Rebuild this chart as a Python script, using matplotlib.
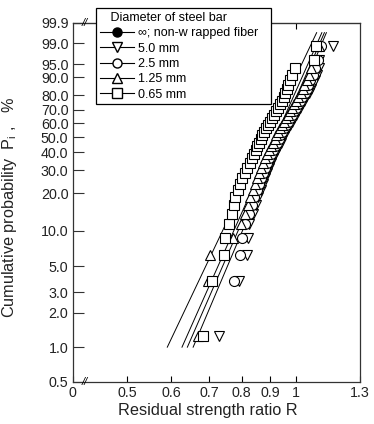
import numpy as np
import matplotlib
matplotlib.use("Agg")
import matplotlib.pyplot as plt
from matplotlib.lines import Line2D

plt.rcParams["font.family"] = ["Liberation Sans", "DejaVu Sans"]

# cumulative probability (%) of each ranked specimen
prob = [1.25, 3.75, 6.25, 8.75, 11.25, 13.75, 16.25, 18.75, 21.25, 23.75,
        26.25, 28.75, 31.25, 33.75, 36.25, 38.75, 41.25, 43.75, 46.25, 48.75,
        51.25, 53.75, 56.25, 58.75, 61.25, 63.75, 66.25, 68.75, 71.25, 73.75,
        76.25, 78.75, 81.25, 83.75, 86.25, 88.75, 91.25, 93.75, 96.25, 98.75]

# residual strength ratio R, ranked
r_50 = [0.728, 0.790, 0.818, 0.822, 0.825, 0.838, 0.848, 0.857, 0.865, 0.873,
        0.879, 0.886, 0.895, 0.903, 0.911, 0.919, 0.926, 0.933, 0.940, 0.946,
        0.952, 0.961, 0.969, 0.977, 0.985, 0.992, 1.001, 1.008, 1.017, 1.026,
        1.034, 1.043, 1.053, 1.062, 1.069, 1.079, 1.088, 1.099, 1.100, 1.165]
r_25 = [np.nan, 0.774, 0.795, 0.801, 0.812, 0.824, 0.834, 0.843, 0.851, 0.859,
        0.865, 0.872, 0.880, 0.888, 0.896, 0.904, 0.911, 0.918, 0.925, 0.931,
        0.937, 0.945, 0.953, 0.961, 0.969, 0.976, 0.985, 0.992, 1.000, 1.009,
        1.017, 1.026, 1.036, 1.045, 1.052, 1.061, 1.070, 1.081, 1.095, 1.109]
r_125 = [0.668, 0.698, 0.703, 0.773, 0.799, 0.811, 0.821, 0.829, 0.837, 0.845,
         0.851, 0.858, 0.866, 0.874, 0.882, 0.889, 0.896, 0.903, 0.910, 0.916,
         0.922, 0.930, 0.938, 0.946, 0.953, 0.960, 0.969, 0.976, 0.984, 0.993,
         1.000, 1.009, 1.019, 1.028, 1.035, 1.044, 1.053, 1.063, 1.077, 1.100]
r_065 = [0.683, 0.710, 0.743, 0.748, 0.761, 0.769, 0.774, 0.780, 0.789, 0.795,
         0.802, 0.812, 0.818, 0.827, 0.834, 0.841, 0.848, 0.853, 0.860, 0.865,
         0.871, 0.878, 0.883, 0.890, 0.899, 0.907, 0.915, 0.922, 0.930, 0.937,
         0.945, 0.951, 0.957, 0.963, 0.969, 0.976, 0.985, 0.997, 1.078, 1.086]

# fitted Weibull lines (shape m, scale R0), drawn from 1 % to 99.66 %
fit_m = [11.6, 11.28, 11.05, 10.35]
fit_r0 = [0.975, 0.963, 0.950, 0.920]
fit_p = [1.0, 99.66]

yticks = [0.5, 1.0, 2.0, 3.0, 5.0, 10.0, 20.0, 30.0, 40.0, 50.0, 60.0, 70.0,
          80.0, 90.0, 95.0, 99.0, 99.9]
xticks = [0.4, 0.5, 0.6, 0.7, 0.8, 0.9, 1.0, 1.3]
xlabels = ["0", "0.5", "0.6", "0.7", "0.8", "0.9", "1", "1.3"]


def weib(p):
    p = np.clip(np.asarray(p, dtype=float), 1e-6, 99.99999) / 100.0
    return np.log(-np.log(1.0 - p))


def weib_inv(w):
    return 100.0 * (1.0 - np.exp(-np.exp(w)))


fig = plt.figure(figsize=(3.74, 4.24), dpi=100)
ax = fig.add_axes([0.194, 0.0998, 0.7686, 0.846])
ax.set_xscale("log")
ax.set_yscale("function", functions=(weib, weib_inv))

# fitted lines
for m, r0 in zip(fit_m, fit_r0):
    p = np.array(fit_p) / 100.0
    r = r0 * (-np.log(1.0 - p)) ** (1.0 / m)
    ax.plot(r, fit_p, color="black", lw=0.7, zorder=2)

series = [(r_50, "v"), (r_25, "o"), (r_125, "^"), (r_065, "s")]
for r, mk in series:
    ax.plot(r, prob, ls="none", marker=mk, ms=7.2, mfc="white", mec="black",
            mew=0.8, zorder=3)

ax.set_xlim(0.4, 1.3)
ax.set_ylim(0.5, 99.9)
ax.set_xticks(xticks)
ax.set_xticklabels(xlabels)
ax.set_yticks(yticks)
ax.set_yticklabels(["%.1f" % v for v in yticks])
ax.minorticks_off()
ax.tick_params(axis="y", direction="in", length=8, width=0.8, pad=3,
               labelsize=10.3, colors="#333333", labelcolor="#222222")
ax.tick_params(axis="x", direction="in", length=4.5, width=0.8, pad=3,
               labelsize=10.3, labelcolor="#222222")
for s in ax.spines.values():
    s.set_linewidth(0.9)
    s.set_color("#333333")

top = ax.secondary_xaxis("top")
top.set_xticks([1.0])
top.set_xticklabels([])
top.minorticks_off()
top.tick_params(direction="in", length=4, width=0.8)

# axis break marks
ax.text(0.043, 0.0, "//", transform=ax.transAxes, ha="center", va="center",
        fontsize=8, style="italic")
ax.text(0.043, 1.0, "//", transform=ax.transAxes, ha="center", va="center",
        fontsize=8, style="italic")

ax.set_xlabel("Residual strength ratio R", fontsize=11.7, color="#222222")
ax.xaxis.set_label_coords(0.471, -0.06)
ax.set_ylabel("Cumulative probability  P$_\\mathregular{i}$ ,   %",
              fontsize=11.7, color="#222222")
ax.yaxis.set_label_coords(-0.185, 0.4856)

handles = [
    Line2D([], [], color="black", lw=0.8, marker="o", ms=6.5, mfc="black"),
    Line2D([], [], color="black", lw=0.8, marker="v", ms=6.5, mfc="white"),
    Line2D([], [], color="black", lw=0.8, marker="o", ms=6.5, mfc="white"),
    Line2D([], [], color="black", lw=0.8, marker="^", ms=6.5, mfc="white"),
    Line2D([], [], color="black", lw=0.8, marker="s", ms=6.5, mfc="white"),
]
labels = ["\u221e; non-w rapped fiber", "5.0 mm", "2.5 mm", "1.25 mm",
          "0.65 mm"]
leg = fig.legend(handles, labels, title="   Diameter of steel bar",
                 loc="upper left",
                 bbox_to_anchor=(0.2567, 0.7594, 0.468, 0.2216),
                 mode="expand",
                 fontsize=9, title_fontsize=9, frameon=True, fancybox=False,
                 edgecolor="black", framealpha=1, borderpad=0.3,
                 labelspacing=0.27, handlelength=2.7, handletextpad=0.35,
                 alignment="left", borderaxespad=0)
leg.get_frame().set_linewidth(0.9)
leg.set_zorder(10)

fig.savefig("out.png", dpi=100)
